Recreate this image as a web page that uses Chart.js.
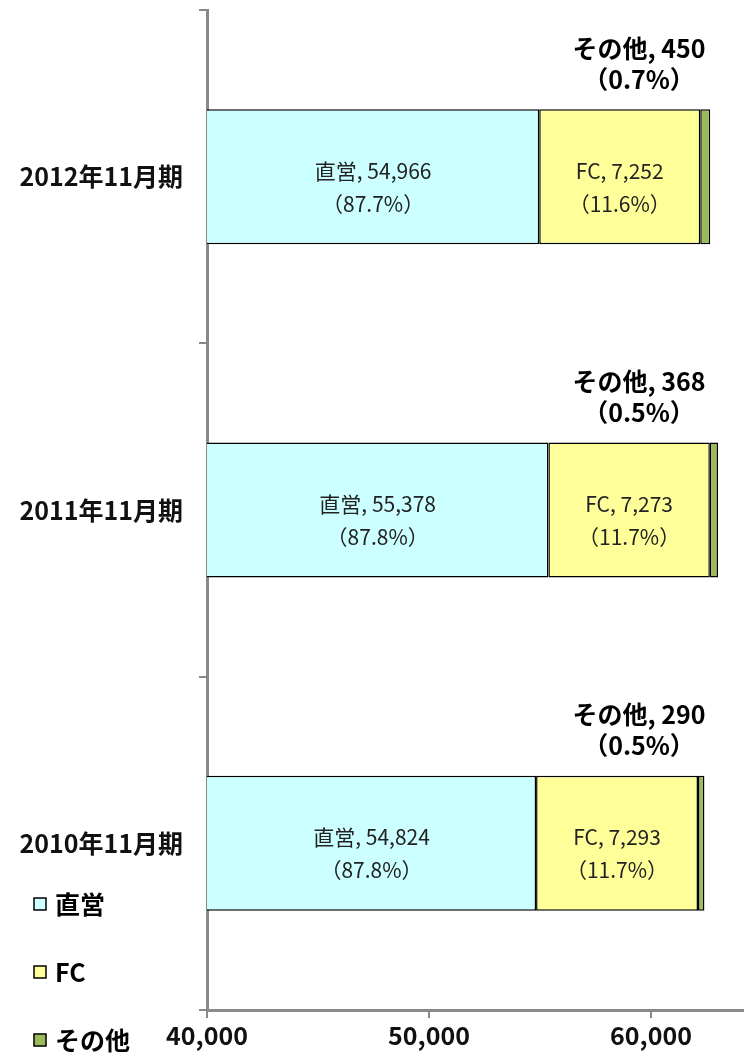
<!DOCTYPE html>
<html><head><meta charset="utf-8">
<script src="https://cdn.jsdelivr.net/npm/chart.js@4.4.1/dist/chart.umd.min.js"></script>
<style>html,body{margin:0;padding:0;background:#fff}#wrap{width:744px;height:1057px;position:relative}</style>
</head><body><div id="wrap"><canvas id="c" width="744" height="1057"></canvas></div>
<script>
const categories = ['2012年11月期','2011年11月期','2010年11月期'];
const seriesNames = ['直営','FC','その他'];
const direct = [54966, 55378, 54824];
const fc = [7252, 7273, 7293];
const other = [450, 368, 290];
const directPct = ['87.7%','87.8%','87.8%'];
const fcPct = ['11.6%','11.7%','11.7%'];
const otherPct = ['0.7%','0.5%','0.5%'];
const xTicks = [40000, 50000, 60000];
const xMin = 40000, xMax = 64190;

const colors = ['#CCFFFF', '#FFFF99', '#9BBB59'];
const FONT = '"Noto Sans CJK JP", "Noto Sans", sans-serif';
const fmt = v => v.toLocaleString('en-US');

const labelPlugin = {
  id: 'labels',
  afterDatasetsDraw(chart) {
    const ctx = chart.ctx;
    const pcts = [directPct, fcPct, otherPct];
    const left = chart.chartArea.left;
    ctx.save();
    ctx.textAlign = 'center';
    ctx.textBaseline = 'middle';
    chart.data.datasets.forEach((ds, di) => {
      const meta = chart.getDatasetMeta(di);
      meta.data.forEach((bar, i) => {
        const v = ds.data[i];
        if (di < 2) {
          const cx = (bar.x + Math.max(bar.base, left)) / 2;
          ctx.fillStyle = '#222';
          ctx.font = '21px ' + FONT;
          ctx.fillText(ds.label + ', ' + fmt(v), cx, bar.y - 6);
          ctx.fillText('（' + pcts[di][i] + '）', cx, bar.y + 27);
        } else {
          const top = bar.y - bar.height / 2;
          const cx = left + 432;
          ctx.fillStyle = '#000';
          ctx.font = 'bold 25px ' + FONT;
          ctx.fillText(ds.label + ', ' + fmt(v), cx, top - 61);
          ctx.fillText('（' + pcts[di][i] + '）', cx, top - 30);
        }
      });
    });
    // legend
    const ly = [904, 972, 1040];
    chart.data.datasets.forEach((ds, di) => {
      ctx.fillStyle = ds.backgroundColor;
      ctx.fillRect(34, ly[di] - 6, 12, 12);
      ctx.strokeStyle = '#000';
      ctx.lineWidth = 1.5;
      ctx.strokeRect(34, ly[di] - 6, 12, 12);
      ctx.fillStyle = '#000';
      ctx.textAlign = 'left';
      ctx.font = 'bold 25px ' + FONT;
      ctx.fillText(ds.label, 55, ly[di]);
    });
    ctx.restore();
  }
};

new Chart(document.getElementById('c'), {
  type: 'bar',
  data: {
    labels: categories,
    datasets: [
      { label: seriesNames[0], data: direct, backgroundColor: colors[0] },
      { label: seriesNames[1], data: fc, backgroundColor: colors[1] },
      { label: seriesNames[2], data: other, backgroundColor: colors[2] }
    ].map(d => Object.assign(d, { borderColor: '#000', borderWidth: 1.5, borderSkipped: false, barPercentage: 0.405, categoryPercentage: 1 }))
  },
  options: {
    indexAxis: 'y',
    responsive: false,
    animation: false,
    devicePixelRatio: 1,
    layout: { padding: { top: 10, left: 0, right: 0, bottom: 0 } },
    plugins: { legend: { display: false }, tooltip: { enabled: false } },
    scales: {
      x: {
        stacked: true, min: xMin, max: xMax,
        afterBuildTicks: s => { s.ticks = xTicks.map(v => ({ value: v })); },
        afterFit: s => { s.height = 47; s.paddingLeft = 0; s.paddingRight = 0; },
        border: { color: '#8a8a8a', width: 3 },
        grid: { drawOnChartArea: false, drawTicks: true, tickLength: 8, color: '#8a8a8a', lineWidth: 2 },
        ticks: { color: '#111', padding: 2, maxRotation: 0, font: { family: FONT, size: 25, weight: 'bold' }, callback: v => fmt(v) }
      },
      y: {
        stacked: true,
        afterFit: s => { s.width = 207; s.paddingTop = 0; s.paddingBottom = 0; },
        border: { color: '#8a8a8a', width: 3 },
        grid: { drawOnChartArea: false, drawTicks: true, tickLength: 8, color: '#8a8a8a', lineWidth: 2, offset: true },
        ticks: { color: '#111', padding: 16, font: { family: FONT, size: 25, weight: 'bold' } }
      }
    }
  },
  plugins: [labelPlugin]
});
</script>
</body></html>
